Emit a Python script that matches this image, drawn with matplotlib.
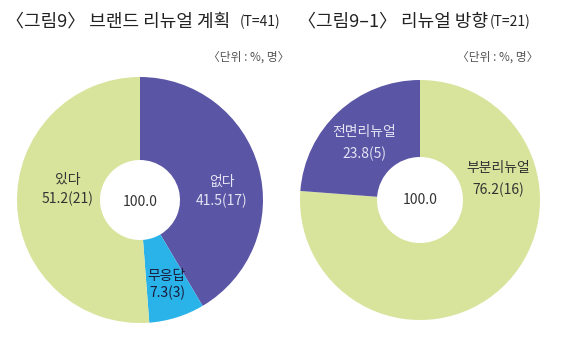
import matplotlib
matplotlib.use("Agg")
import matplotlib.pyplot as plt

plt.rcParams['font.family'] = ['Noto Sans CJK KR', 'DejaVu Sans']

# 데이터
left_labels = ['없다', '무응답', '있다']
left_values = [41.5, 7.3, 51.2]
left_counts = [17, 3, 21]
left_colors = ['#5b55a5', '#29b3e8', '#d8e49c']

right_labels = ['부분리뉴얼', '전면리뉴얼']
right_values = [76.2, 23.8]
right_counts = [16, 5]
right_colors = ['#d8e49c', '#5b55a5']

total_text = '100.0'

W, H = 563, 356
fig = plt.figure(figsize=(W / 100, H / 100), dpi=100)
ax = fig.add_axes([0, 0, 1, 1])


def py(y):
    return H - y


# 왼쪽 도넛
ax.pie(left_values, colors=left_colors, startangle=90, counterclock=False,
       center=(140, py(200)), radius=123, frame=True,
       wedgeprops=dict(width=83, linewidth=0))
# 오른쪽 도넛
ax.pie(right_values, colors=right_colors, startangle=90, counterclock=False,
       center=(420, py(200)), radius=120, frame=True,
       wedgeprops=dict(width=77, linewidth=0))
ax.set_xlim(0, W)
ax.set_ylim(0, H)
ax.set_aspect('equal')
ax.axis('off')

# 제목
ax.text(6, py(21), '〈그림9〉 브랜드 리뉴얼 계획', fontsize=13, color='#222222', va='center')
ax.text(240, py(22), '(T=41)', fontsize=10, color='#222222', va='center')
ax.text(289, py(57), '〈단위 : %, 명〉', fontsize=8.5, color='#555555', va='center', ha='right')

ax.text(298, py(21), '〈그림9–1〉 리뉴얼 방향', fontsize=13, color='#222222', va='center')
ax.text(490, py(22), '(T=21)', fontsize=10, color='#222222', va='center')
ax.text(538, py(57), '〈단위 : %, 명〉', fontsize=8.5, color='#555555', va='center', ha='right')

# 왼쪽 라벨
lab_pos_left = [(222, 182, 201), (167, 276, 293), (68, 180, 199)]
lab_col_left = ['#e4e4f4', '#1a1a3a', '#333333']
for (x, y1, y2), lab, v, n, c in zip(lab_pos_left, left_labels, left_values,
                                     left_counts, lab_col_left):
    ax.text(x, py(y1), lab, fontsize=10, color=c, ha='center', va='center')
    ax.text(x, py(y2), f'{v}({n})', fontsize=10, color=c, ha='center', va='center')
ax.text(140, py(202), total_text, fontsize=10, color='#333333', ha='center', va='center')

# 오른쪽 라벨
lab_pos_right = [(498, 168, 190), (364, 132, 154)]
lab_col_right = ['#333333', '#e4e4f4']
for (x, y1, y2), lab, v, n, c in zip(lab_pos_right, right_labels, right_values,
                                     right_counts, lab_col_right):
    ax.text(x, py(y1), lab, fontsize=10, color=c, ha='center', va='center')
    ax.text(x, py(y2), f'{v}({n})', fontsize=10, color=c, ha='center', va='center')
ax.text(420, py(200), total_text, fontsize=10, color='#333333', ha='center', va='center')

fig.savefig('out.png', dpi=100, facecolor='white')
